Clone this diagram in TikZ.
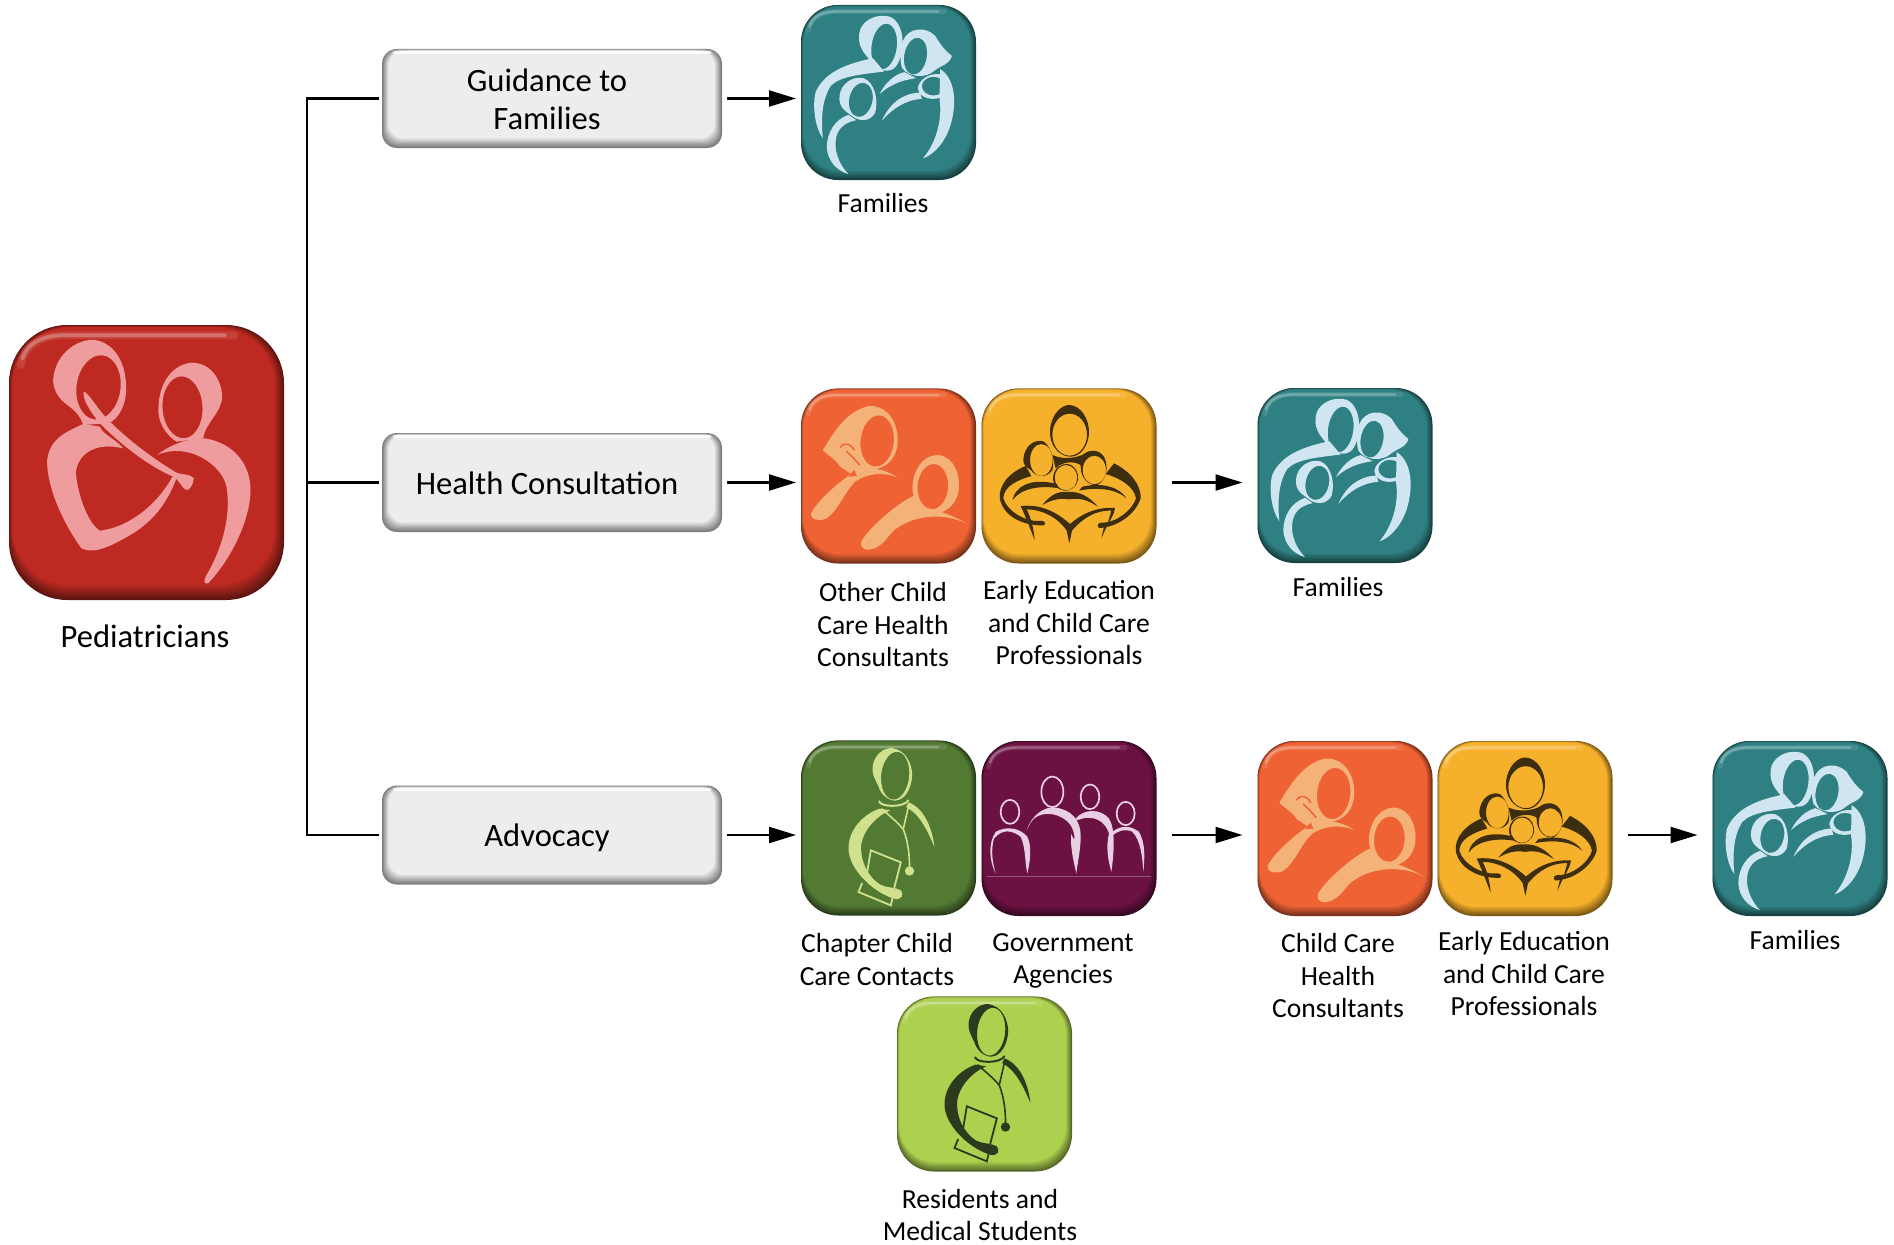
\documentclass[tikz,border=0pt]{standalone}
\usepackage{fontspec}
\setmainfont{Carlito}
\usetikzlibrary{arrows.meta}
\definecolor{tealtile}{HTML}{2F8082}
\definecolor{redtile}{HTML}{BE2A22}
\definecolor{orangetile}{HTML}{EE6234}
\definecolor{yellowtile}{HTML}{F6B12C}
\definecolor{greentile}{HTML}{527A33}
\definecolor{maroontile}{HTML}{6B1242}
\definecolor{limetile}{HTML}{ADD04F}
\definecolor{boxgrey}{HTML}{ECEEED}
\definecolor{familyink}{HTML}{CFE6F2}
\definecolor{pediatricink}{HTML}{EE9C9E}
\definecolor{consultink}{HTML}{F4B279}
\definecolor{earlyink}{HTML}{3E2E10}
\definecolor{chapterink}{HTML}{D0E18D}
\definecolor{residentink}{HTML}{2C3A1E}
\definecolor{agencyink}{HTML}{E8CFE3}
\tikzset{
  tilenode/.style={inner sep=0pt,outer sep=0pt},
  actionbox/.style={inner sep=0pt,outer sep=0pt,minimum width=340pt,minimum height=99pt},
  actiontext/.style={inner sep=0pt,align=center,font=\fontsize{32.6}{38}\selectfont},
  caption/.style={inner sep=0pt,align=center,font=\fontsize{27.6}{32.5}\selectfont},
  bigcaption/.style={inner sep=0pt,align=center,font=\fontsize{32.6}{38}\selectfont},
  branch/.style={line width=2.2pt},
  flow/.style={line width=2.2pt,-{Triangle[length=27pt,width=16pt]},shorten <=#1,shorten >=#1},
  pics/familyart/.style={code={
    \begin{scope}[shift={(-325,-275)}]
    % Father
    \fill[familyink,even odd rule] (237,100) .. controls (240,60) and (290,35) .. (330,48) .. controls (375,68) and (375,150) .. (352,190) .. controls (338,217) and (300,217) .. (275,185) .. controls (255,160) and (232,140) .. (237,100) -- cycle (312,137) ellipse [x radius=38,y radius=69,rotate=-8];
    \fill[familyink] (278,172) .. controls (220,185) and (135,205) .. (106,275) .. controls (96,320) and (105,380) .. (128,412) .. controls (122,350) and (126,295) .. (152,255) .. controls (180,225) and (250,220) .. (312,212) -- cycle;
    % Mother
    \fill[familyink,even odd rule] (368,120) .. controls (385,80) and (435,75) .. (465,105) .. controls (480,130) and (495,150) .. (515,165) .. controls (510,190) and (480,195) .. (462,210) .. controls (440,232) and (385,232) .. (365,200) .. controls (358,175) and (360,140) .. (368,120) -- cycle (406,166) ellipse [x radius=34,y radius=56,rotate=-10];
    \fill[familyink] (372,214) .. controls (345,220) and (315,245) .. (298,280) .. controls (325,255) and (360,238) .. (408,232) -- cycle;
    \fill[familyink] (305,360) .. controls (325,315) and (360,278) .. (420,275) -- (425,294) .. controls (375,297) and (335,325) .. (305,360) -- cycle;
    \fill[familyink] (480,205) .. controls (522,230) and (532,300) .. (512,370) .. controls (497,420) and (465,460) .. (428,473) .. controls (465,430) and (488,360) .. (478,295) -- cycle;
    % Baby
    \fill[familyink,even odd rule] (413,262) .. controls (416,235) and (450,216) .. (480,220) .. controls (507,230) and (507,272) .. (490,287) .. controls (465,300) and (418,297) .. (413,262) -- cycle (460,256) ellipse [x radius=35,y radius=28];
    % Child
    \fill[familyink,even odd rule] (178,285) .. controls (182,250) and (215,225) .. (250,232) .. controls (285,245) and (295,300) .. (285,335) .. controls (270,365) and (235,362) .. (215,345) .. controls (195,330) and (175,320) .. (178,285) -- cycle (242,297) ellipse [x radius=35,y radius=52,rotate=-12];
    \fill[familyink] (205,342) .. controls (165,355) and (140,395) .. (140,440) .. controls (142,480) and (170,510) .. (205,520) .. controls (175,490) and (160,445) .. (168,410) .. controls (175,380) and (195,365) .. (228,358) -- cycle;
    \end{scope}
  }},
  pics/pediatricart/.style={code={
    \begin{scope}[shift={(-440,-457.5)}]
    % Left doctor
    \fill[pediatricink,even odd rule] (160,210) .. controls (165,130) and (235,85) .. (285,90) .. controls (350,100) and (385,170) .. (378,255) .. controls (372,300) and (350,330) .. (325,340) -- (250,345) .. controls (240,310) and (215,295) .. (190,275) .. controls (170,255) and (160,235) .. (160,210) -- cycle (296,232) ellipse [x radius=66,y radius=97,rotate=-8];
    \fill[pediatricink] (250,342) .. controls (200,365) and (150,385) .. (142,450) .. controls (140,530) and (190,640) .. (245,715) .. controls (285,735) and (340,705) .. (400,670) .. controls (470,625) and (505,570) .. (530,505) -- (518,500) .. controls (480,570) and (400,650) .. (300,662) .. controls (265,640) and (235,560) .. (228,490) .. controls (232,430) and (290,395) .. (370,415) .. controls (345,385) and (310,375) .. (300,350) -- cycle;
    % Arm
    \fill[pediatricink] (252,245) .. controls (262,245) and (290,290) .. (320,325) .. controls (380,385) and (450,440) .. (530,488) .. controls (545,495) and (570,490) .. (582,505) .. controls (580,525) and (570,540) .. (560,540) .. controls (545,535) and (540,510) .. (520,500) .. controls (440,465) and (360,400) .. (300,340) .. controls (275,310) and (245,265) .. (252,245) -- cycle;
    % Right parent
    \fill[pediatricink,even odd rule] (476,310) .. controls (472,230) and (510,165) .. (575,158) .. controls (630,158) and (665,205) .. (667,260) .. controls (665,310) and (615,340) .. (610,385) -- (530,395) .. controls (500,375) and (480,345) .. (476,310) -- cycle (548,292) ellipse [x radius=60,y radius=93,rotate=3];
    \fill[pediatricink] (472,435) .. controls (510,405) and (560,385) .. (615,385) .. controls (680,395) and (745,440) .. (752,530) .. controls (755,620) and (700,740) .. (625,820) .. controls (610,825) and (612,810) .. (620,795) .. controls (665,720) and (695,620) .. (680,530) .. controls (665,460) and (560,395) .. (472,435) -- cycle;
    \end{scope}
  }},
  pics/consultart/.style={code={
    \begin{scope}[shift={(-325,-318)}]
    % Upper figure
    \fill[consultink,even odd rule] (128,240) .. controls (160,190) and (195,125) .. (265,108) .. controls (330,105) and (358,170) .. (352,225) .. controls (345,270) and (320,290) .. (285,298) -- (225,320) -- (180,290) .. controls (165,265) and (140,255) .. (128,240) -- cycle (291,213) ellipse [x radius=50,y radius=77,rotate=-6];
    \fill[consultink] (352,322) .. controls (310,295) and (260,285) .. (215,310) .. controls (165,345) and (110,395) .. (93,430) .. controls (90,450) and (120,455) .. (140,445) .. controls (175,420) and (190,370) .. (225,335) .. controls (260,310) and (310,305) .. (352,322) -- cycle;
    \draw[orangetile,line width=1.4pt,line cap=round] (180,232) .. controls (195,212) and (215,225) .. (222,240) (200,245) .. controls (210,255) and (222,265) .. (238,285);
    \fill[orangetile] (205,320) -- (222,300) -- (230,318) -- cycle;
    % Lower figure
    \fill[consultink,even odd rule] (400,325) .. controls (410,285) and (435,255) .. (475,255) .. controls (525,262) and (542,320) .. (535,365) .. controls (528,400) and (505,420) .. (480,428) -- (425,420) -- (405,390) .. controls (395,365) and (395,345) .. (400,325) -- cycle (458,350) ellipse [x radius=46,y radius=68,rotate=-4];
    \fill[consultink] (562,462) .. controls (515,435) and (470,418) .. (425,412) -- (400,378) .. controls (350,400) and (265,475) .. (243,515) .. controls (238,545) and (275,545) .. (300,525) .. controls (320,510) and (325,495) .. (345,478) .. controls (410,430) and (500,430) .. (562,462) -- cycle;
    \end{scope}
  }},
  pics/earlyart/.style={code={
    \begin{scope}[shift={(-865,-318)}]
    % Adult head
    \fill[earlyink,even odd rule] (808,180) .. controls (812,130) and (845,103) .. (868,105) .. controls (900,108) and (926,145) .. (925,190) .. controls (922,230) and (900,260) .. (868,260) .. controls (830,258) and (805,220) .. (808,180) -- cycle (867,194) ellipse [x radius=52,y radius=63];
    % Shoulders
    \fill[earlyink] (815,255) .. controls (850,270) and (885,265) .. (915,250) -- (905,290) .. controls (890,272) and (845,272) .. (825,295) -- cycle;
    % Children
    \fill[earlyink,even odd rule] (728,270) .. controls (730,225) and (765,205) .. (790,215) .. controls (815,235) and (822,280) .. (815,300) .. controls (800,325) and (765,322) .. (750,300) .. controls (735,290) and (728,285) .. (728,270) -- cycle (782,270) ellipse [x radius=34,y radius=48];
    \fill[earlyink,even odd rule] (900,262) .. controls (915,240) and (950,232) .. (970,260) .. controls (985,290) and (978,330) .. (950,345) .. controls (920,348) and (900,320) .. (900,290) -- cycle (941,300) ellipse [x radius=35,y radius=43];
    \fill[earlyink,even odd rule] (817,322) .. controls (820,295) and (840,280) .. (860,282) .. controls (885,285) and (895,310) .. (892,330) .. controls (885,355) and (865,364) .. (850,362) .. controls (830,358) and (817,345) .. (817,322) -- cycle (856,323) ellipse [x radius=34,y radius=38];
    % Arms
    \fill[earlyink] (735,288) .. controls (690,305) and (650,345) .. (658,390) .. controls (670,435) and (720,468) .. (790,466) .. controls (798,458) and (790,450) .. (775,453) .. controls (735,455) and (680,425) .. (668,385) .. controls (668,350) and (710,330) .. (752,318) -- cycle;
    \fill[earlyink] (1000,280) .. controls (1050,305) and (1082,345) .. (1080,385) .. controls (1065,432) and (1010,472) .. (955,474) .. controls (945,465) and (955,455) .. (970,458) .. controls (1010,455) and (1055,420) .. (1066,385) .. controls (1060,350) and (1020,325) .. (975,312) -- cycle;
    \fill[earlyink] (696,390) .. controls (700,355) and (745,320) .. (828,342) -- (835,355) .. controls (780,345) and (720,355) .. (696,390) -- cycle;
    \fill[earlyink] (1037,385) .. controls (1020,355) and (970,335) .. (905,350) -- (895,362) .. controls (950,350) and (1010,358) .. (1037,385) -- cycle;
    % Book
    \fill[earlyink] (785,405) .. controls (810,375) and (830,363) .. (860,366) .. controls (900,362) and (930,385) .. (952,410) .. controls (920,390) and (900,383) .. (865,388) .. controls (830,383) and (810,392) .. (785,405) -- cycle;
    \fill[earlyink] (720,408) .. controls (760,404) and (810,410) .. (868,462) .. controls (905,430) and (950,410) .. (1003,414) .. controls (1000,435) and (990,445) .. (985,460) -- (982,458) .. controls (985,445) and (990,430) .. (992,422) .. controls (945,420) and (905,445) .. (874,482) -- (866,520) -- (858,482) .. controls (830,440) and (780,418) .. (738,418) .. controls (750,440) and (760,480) .. (762,510) .. controls (750,480) and (735,440) .. (720,408) -- cycle;
    \fill[earlyink] (962,505) -- (970,470) -- (978,470) -- cycle;
    \end{scope}
  }},
  pics/doctorart/.style={code={
    \begin{scope}[shift={(-325,-295)}]
    % Head
    \fill[#1,even odd rule] (277,115) .. controls (280,75) and (310,55) .. (335,55) .. controls (375,60) and (397,100) .. (396,140) .. controls (392,180) and (375,210) .. (345,213) .. controls (320,212) and (300,190) .. (295,170) .. controls (285,150) and (276,135) .. (277,115) -- cycle (345,138) ellipse [x radius=42,y radius=72,rotate=-6];
    % Body
    \fill[#1] (298,237) .. controls (245,255) and (203,305) .. (205,360) .. controls (208,420) and (280,490) .. (345,508) .. controls (365,510) and (372,495) .. (362,482) .. controls (345,472) and (320,475) .. (300,465) .. controls (262,440) and (240,395) .. (243,345) .. controls (250,300) and (290,258) .. (330,242) -- cycle;
    % Stethoscope
    \draw[#1,line width=2pt,line cap=round] (297,215) .. controls (300,232) and (370,235) .. (385,212);
    \draw[#1,line width=1.6pt,line cap=round] (305,238) .. controls (330,260) and (355,280) .. (370,300) .. controls (385,340) and (388,380) .. (388,412);
    \draw[#1,line width=1.6pt,line cap=round] (385,230) -- (370,295);
    \fill[#1] (385,218) .. controls (430,235) and (455,290) .. (463,352) .. controls (440,300) and (420,255) .. (378,232) -- cycle;
    \fill[#1] (388,424) circle [radius=14];
    % Clipboard
    \draw[#1,line width=1.8pt] (258,445) -- (272,362) -- (362,398) -- (342,475);
    \draw[#1,line width=1.8pt] (246,460) -- (235,487) -- (332,527) -- (337,505);
    \end{scope}
  }},
  pics/agencyart/.style={code={
    \begin{scope}[shift={(-865,-295)}]
    % Heads
    \draw[agencyink,line width=1.7pt] (815,185) ellipse [x radius=33,y radius=46];
    \draw[agencyink,line width=1.7pt] (928,200) ellipse [x radius=28,y radius=37];
    \draw[agencyink,line width=1.7pt] (688,245) ellipse [x radius=28,y radius=36];
    \draw[agencyink,line width=1.7pt] (1035,250) ellipse [x radius=27,y radius=35];
    % Shoulders
    \fill[agencyink] (738,300) .. controls (755,250) and (795,228) .. (825,232) .. controls (870,240) and (900,265) .. (900,320) .. controls (900,360) and (890,400) .. (887,430) .. controls (878,390) and (868,350) .. (872,310) .. controls (885,350) and (885,310) .. (870,285) .. controls (845,250) and (790,240) .. (760,265) .. controls (745,280) and (742,295) .. (738,300) -- cycle;
    \fill[agencyink] (885,265) .. controls (910,235) and (960,235) .. (985,265) .. controls (1005,295) and (1000,370) .. (992,425) .. controls (982,390) and (975,350) .. (985,310) .. controls (975,275) and (940,250) .. (890,270) -- cycle;
    \fill[agencyink] (995,305) .. controls (1020,285) and (1050,285) .. (1075,305) .. controls (1095,340) and (1092,385) .. (1088,425) .. controls (1085,380) and (1080,330) .. (1055,305) .. controls (1035,295) and (1015,300) .. (997,315) -- cycle;
    \fill[agencyink] (645,430) .. controls (625,390) and (622,340) .. (645,305) .. controls (680,285) and (720,295) .. (740,320) .. controls (755,350) and (748,395) .. (740,430) .. controls (732,395) and (735,350) .. (720,320) .. controls (695,300) and (665,295) .. (640,325) .. controls (630,360) and (635,395) .. (645,430) -- cycle;
    \draw[agencyink,line width=.6pt,opacity=.35] (620,438) -- (1112,438);
    \end{scope}
  }},
}
% bevelled square with its name
\newcommand{\tile}[4]{%
  \pgfmathsetmacro{\tk}{#3/175}
  \begin{scope}[shift={#2},scale=\tk]
    \foreach \i in {0,...,7}{
      \pgfmathsetmacro{\mix}{int(50+\i*50/7)}
      \fill[#4!\mix!black,rounded corners=\tk*37pt] ({-87.5+.3*\i},{-87.5+.2*\i}) rectangle ({87.5-.8*\i},{87.5-1.3*\i});
    }
    \draw[#4!70!white,line width=\tk*5pt,line cap=round,opacity=.35] (-80,-62) .. controls (-78,-74) and (-68,-81) .. (-52,-81) -- (56,-81);
    \draw[#4!50!white,line width=\tk*2.4pt,line cap=round,opacity=.6] (-79,-66) .. controls (-76,-76) and (-66,-81) .. (-52,-81) -- (50,-81);
  \end{scope}
  \node[tilenode,minimum size=#3pt] (#1) at #2 {};
}
% grey bar that carries an action
\newcommand{\actionbar}[4]{%
  \begin{scope}[shift={#2}]
    \foreach \i in {0,...,8}{
      \pgfmathsetmacro{\mix}{int(52+\i*6)}
      \fill[boxgrey!\mix!black,rounded corners=15pt] ({-170+.8*\i},{-49.5+.25*\i}) rectangle ({170-.9*\i},{49.5-1.2*\i});
    }
    \draw[white,line width=3pt,line cap=round,opacity=.8] (-158,-46) -- (158,-46);
  \end{scope}
  \node[actionbox] (#1) at #2 {};
  \node[actiontext] (#1text) at ([xshift=-5pt,yshift=#3]#1.center) {#4};
}
\begin{document}
\begin{tikzpicture}[x=1pt,y=-1pt]
\useasboundingbox (0,0) rectangle (1894,1244);
% Source
\tile{pediatricians}{(146.5,462.5)}{275}{redtile}
\pic[scale=1/3] at (146.5,462.5) {pediatricart};
\node[bigcaption] (pediatricianstext) at (145,636) {Pediatricians};
% Actions
\actionbar{guidance}{(552,98.5)}{-1pt}{Guidance to\\Families}
\actionbar{health}{(552,482.5)}{-1pt}{Health Consultation}
\actionbar{advocacy}{(552,835)}{-3pt}{Advocacy}
% First row
\tile{familiesA}{(888.5,92.5)}{175}{tealtile}
\pic[scale=1/3] at (888.5,92.5) {familyart};
\node[caption] (familiesAtext) at (883,203) {Families};
% Second row
\tile{consultantsA}{(888.5,476)}{175}{orangetile}
\pic[scale=1/3] at (888.5,476) {consultart};
\tile{earlyA}{(1069,476)}{175}{yellowtile}
\pic[scale=1/3] at (1069,476) {earlyart};
\tile{familiesB}{(1345,475.5)}{175}{tealtile}
\pic[scale=1/3] at (1345,475.5) {familyart};
\node[caption] (consultantsAtext) at (883,625) {Other Child\\Care Health\\Consultants};
\node[caption] (earlyAtext) at (1069,623) {Early Education\\and Child Care\\Professionals};
\node[caption] (familiesBtext) at (1338,587) {Families};
% Third row
\tile{chapter}{(888.5,828)}{175}{greentile}
\pic[scale=1/3] at (888.5,828) {doctorart=chapterink};
\tile{agencies}{(1069,828.5)}{175}{maroontile}
\pic[scale=1/3] at (1069,828.5) {agencyart};
\tile{residents}{(984.5,1084)}{175}{limetile}
\pic[scale=1/3] at (984.5,1084) {doctorart=residentink};
\tile{consultantsB}{(1345,828.5)}{175}{orangetile}
\pic[scale=1/3] at (1345,828.5) {consultart};
\tile{earlyB}{(1525,828.5)}{175}{yellowtile}
\pic[scale=1/3] at (1525,828.5) {earlyart};
\tile{familiesC}{(1800,828.5)}{175}{tealtile}
\pic[scale=1/3] at (1800,828.5) {familyart};
\node[caption] (chaptertext) at (877,959.5) {Chapter Child\\Care Contacts};
\node[caption] (agenciestext) at (1063,961) {Government\\Agencies};
\node[caption] (residentstext) at (980,1215) {Residents and\\Medical Students};
\node[caption] (consultantsBtext) at (1338,976) {Child Care\\Health\\Consultants};
\node[caption] (earlyBtext) at (1524,974) {Early Education\\and Child Care\\Professionals};
\node[caption] (familiesCtext) at (1795,940) {Families};
% Connectors
\coordinate (trunk) at (307,482.5);
\draw[branch,shorten >=3pt] (trunk) -- (health.west);
\draw[branch,shorten >=3pt,shorten <=3pt] (guidance.west) -| (trunk) |- (advocacy.west);
\draw[flow=5pt] (guidance.east) -- (guidance.east -| familiesA.west);
\draw[flow=5pt] (health.east) -- (health.east -| consultantsA.west);
\draw[flow=5pt] (advocacy.east) -- (advocacy.east -| chapter.west);
\draw[flow=15pt] (earlyA.east |- health) -- (health -| familiesB.west);
\draw[flow=15pt] (agencies.east |- advocacy) -- (advocacy -| consultantsB.west);
\draw[flow=15pt] (earlyB.east |- advocacy) -- (advocacy -| familiesC.west);
\end{tikzpicture}
\end{document}
